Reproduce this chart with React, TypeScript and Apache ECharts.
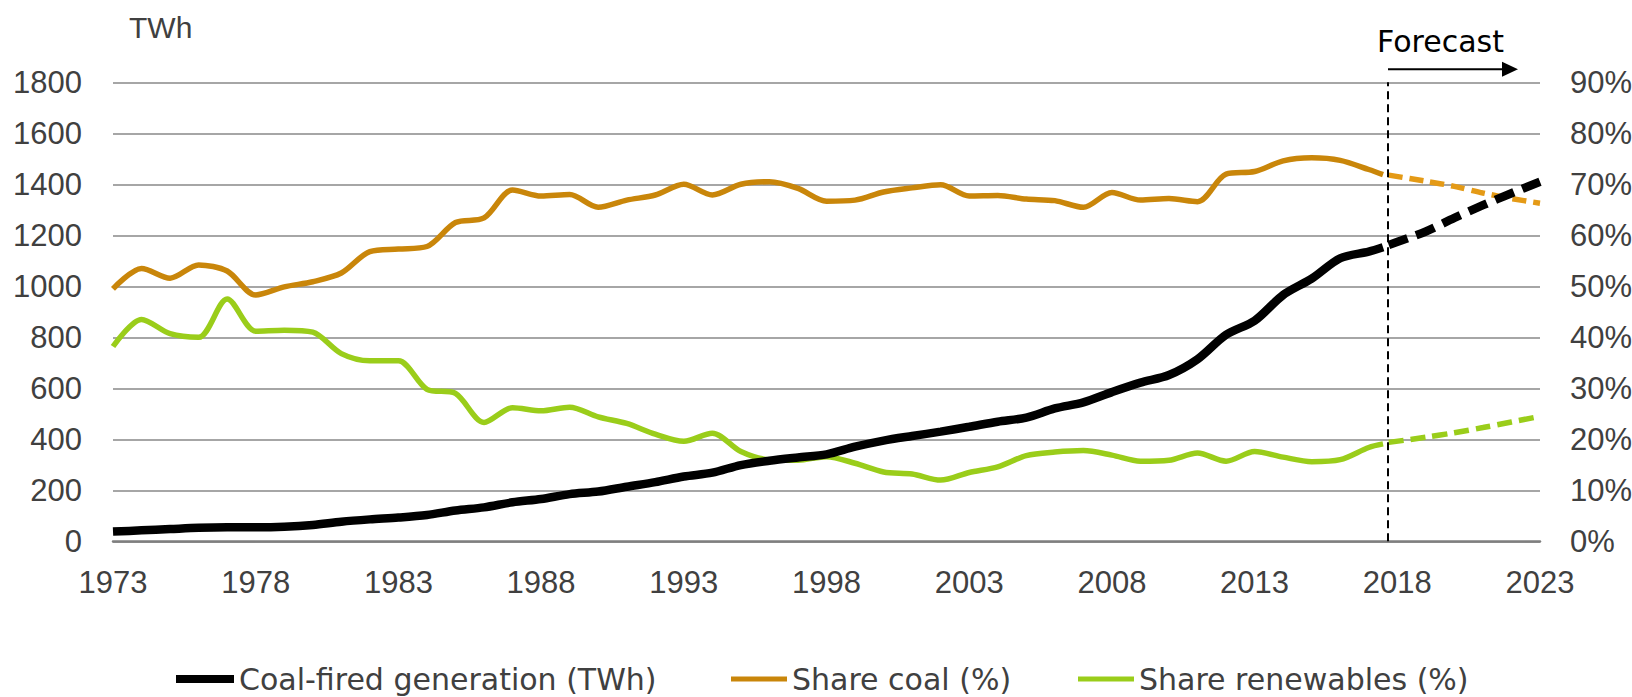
import React, { useEffect, useRef } from "react";
import * as echarts from "echarts";

// ---- data ----
const histYears = [
  1973, 1974, 1975, 1976, 1977, 1978, 1979, 1980, 1981, 1982,
  1983, 1984, 1985, 1986, 1987, 1988, 1989, 1990, 1991, 1992,
  1993, 1994, 1995, 1996, 1997, 1998, 1999, 2000, 2001, 2002,
  2003, 2004, 2005, 2006, 2007, 2008, 2009, 2010, 2011, 2012,
  2013, 2014, 2015, 2016, 2017, 2017.5,
];
const coalGenHist = [
  38, 43, 48, 53, 55, 55, 57, 64, 77, 86,
  93, 103, 121, 133, 153, 166, 185, 195, 214, 232,
  254, 269, 299, 316, 329, 341, 371, 395, 413, 430,
  449, 469, 485, 521, 545, 585, 622, 652, 714, 810,
  865, 966, 1030, 1110, 1136, 1153,
];
const shareCoalHist = [
  49.5, 53.5, 51.6, 54.2, 53.0, 48.3, 49.9, 50.9, 52.6, 56.8,
  57.3, 57.8, 62.5, 63.4, 68.9, 67.7, 68.0, 65.5, 66.9, 67.9,
  70.0, 67.9, 70.0, 70.5, 69.2, 66.7, 66.9, 68.5, 69.3, 69.9,
  67.7, 67.8, 67.1, 66.8, 65.5, 68.4, 66.9, 67.2, 66.6, 72.0,
  72.5, 74.6, 75.2, 74.7, 72.9, 71.9,
];
const shareRenewHist = [
  38.2, 43.5, 40.7, 40.0, 47.5, 41.2, 41.4, 41.0, 36.8, 35.4,
  35.4, 29.8, 29.0, 23.3, 26.2, 25.6, 26.3, 24.4, 23.1, 21.0,
  19.6, 21.2, 17.6, 16.0, 15.9, 16.6, 15.3, 13.6, 13.2, 12.0,
  13.5, 14.6, 16.8, 17.5, 17.8, 16.9, 15.7, 15.9, 17.3, 15.7,
  17.6, 16.5, 15.6, 16.0, 18.4, 19.1,
];

const forecastYears = [2017.7, 2019, 2020, 2021, 2022, 2023];
const coalGenForecast = [1162, 1215, 1268, 1318, 1365, 1410];
const shareCoalForecast = [71.8, 70.6, 69.6, 68.3, 67.2, 66.3];
const shareRenewForecast = [19.4, 20.4, 21.3, 22.3, 23.4, 24.5];

const forecastStart = 2017.67;

const leftTicks = { min: 0, max: 1800, interval: 200 };
const rightTicks = { min: 0, max: 90, interval: 10 };
const xTicks = { min: 1973, max: 2023, interval: 5 };

const NAME_GEN = "Coal-fired generation (TWh)";
const NAME_COAL = "Share coal (%)";
const NAME_REN = "Share renewables (%)";

const BLACK = "#000000";
const ORANGE = "#C9860A";
const ORANGE_F = "#E49A16";
const GREEN = "#9ACD1A";
const TEXT = "#404040";

const pair = (xs: number[], ys: number[]) => xs.map((x, i) => [x, ys[i]]);

export default function App() {
  const ref = useRef<HTMLDivElement | null>(null);

  useEffect(() => {
    if (!ref.current) return;
    const chart = echarts.init(ref.current, null, { renderer: "svg" });

    const axisFont = {
      fontFamily: "Liberation Sans",
      fontSize: 31,
      color: TEXT,
    };

    const legendBase = {
      orient: "horizontal",
      top: 664,
      padding: 0,
      icon: "rect",
      textStyle: { fontFamily: "DejaVu Sans", fontSize: 30, color: TEXT },
      selectedMode: false,
    };

    const option: any = {
      animation: false,
      backgroundColor: "#ffffff",
      grid: {
        left: 113,
        right: 92,
        top: 82.3,
        bottom: 155.7,
        containLabel: false,
        outerBoundsMode: "none",
      },
      xAxis: {
        type: "value",
        min: xTicks.min,
        max: xTicks.max,
        interval: xTicks.interval,
        axisLine: { show: true, lineStyle: { color: "#7F7F7F", width: 2.5 } },
        axisTick: { show: false },
        splitLine: { show: false },
        axisLabel: {
          ...axisFont,
          margin: 26,
          formatter: (v: number) => String(v),
        },
      },
      yAxis: [
        {
          type: "value",
          min: leftTicks.min,
          max: leftTicks.max,
          interval: leftTicks.interval,
          axisLine: { show: false },
          axisTick: { show: false },
          splitLine: { show: true, lineStyle: { color: "#A6A6A6", width: 2 } },
          axisLabel: { ...axisFont, margin: 31, formatter: (v: number) => String(v) },
        },
        {
          type: "value",
          position: "right",
          min: rightTicks.min,
          max: rightTicks.max,
          interval: rightTicks.interval,
          axisLine: { show: false },
          axisTick: { show: false },
          splitLine: { show: false },
          axisLabel: { ...axisFont, margin: 30, formatter: (v: number) => v + "%" },
        },
      ],
      legend: [
        { ...legendBase, left: 176, itemWidth: 58, itemHeight: 8, data: [NAME_GEN] },
        { ...legendBase, left: 731, itemWidth: 56, itemHeight: 5, data: [NAME_COAL] },
        { ...legendBase, left: 1078, itemWidth: 56, itemHeight: 5, data: [NAME_REN] },
      ],
      series: [
        {
          name: NAME_REN,
          type: "line",
          yAxisIndex: 1,
          data: pair(histYears, shareRenewHist),
          symbol: "none",
          smooth: 0.3,
          lineStyle: { color: GREEN, width: 5.5 },
          itemStyle: { color: GREEN },
          z: 2,
        },
        {
          name: "Share renewables forecast",
          type: "line",
          yAxisIndex: 1,
          data: pair(forecastYears, shareRenewForecast),
          symbol: "none",
          smooth: 0.3,
          lineStyle: { color: GREEN, width: 5.5, type: [15, 7] },
          itemStyle: { color: GREEN },
          z: 2,
        },
        {
          name: NAME_COAL,
          type: "line",
          yAxisIndex: 1,
          data: pair(histYears, shareCoalHist),
          symbol: "none",
          smooth: 0.3,
          lineStyle: { color: ORANGE, width: 5.5 },
          itemStyle: { color: ORANGE },
          z: 3,
        },
        {
          name: "Share coal forecast",
          type: "line",
          yAxisIndex: 1,
          data: pair(forecastYears, shareCoalForecast),
          symbol: "none",
          smooth: 0.3,
          lineStyle: { color: ORANGE_F, width: 5.5, type: [14, 7] },
          itemStyle: { color: ORANGE_F },
          z: 3,
        },
        {
          name: NAME_GEN,
          type: "line",
          yAxisIndex: 0,
          data: pair(histYears, coalGenHist),
          symbol: "none",
          smooth: 0.3,
          lineStyle: { color: BLACK, width: 8.5 },
          itemStyle: { color: BLACK },
          z: 4,
        },
        {
          name: "Coal-fired generation forecast",
          type: "line",
          yAxisIndex: 0,
          data: pair(forecastYears, coalGenForecast),
          symbol: "none",
          smooth: 0.3,
          lineStyle: { color: BLACK, width: 8.5, type: [20, 9] },
          itemStyle: { color: BLACK },
          z: 4,
          markLine: {
            silent: true,
            symbol: "none",
            label: { show: false },
            lineStyle: { color: BLACK, width: 2, type: [8, 5] },
            data: [{ xAxis: forecastStart }],
          },
        },
      ],
      graphic: [
        {
          type: "text",
          x: 129,
          y: 27,
          style: {
            text: "TWh",
            fill: TEXT,
            font: "30px 'Liberation Sans'",
            verticalAlign: "middle",
            align: "left",
          },
        },
        {
          type: "text",
          x: 1377,
          y: 41,
          style: {
            text: "Forecast",
            fill: "#000000",
            font: "30px 'DejaVu Sans'",
            verticalAlign: "middle",
            align: "left",
          },
        },
        {
          type: "line",
          shape: { x1: 1388, y1: 69.3, x2: 1504, y2: 69.3 },
          style: { stroke: "#000000", lineWidth: 2 },
        },
        {
          type: "polygon",
          shape: { points: [[1502, 61.8], [1518, 69.3], [1502, 76.8]] },
          style: { fill: "#000000" },
        },
      ],
    };

    chart.setOption(option);
    return () => chart.dispose();
  }, []);

  return (
    <div
      ref={ref}
      style={{ position: "fixed", left: 0, top: 0, width: 1632, height: 697, background: "#fff" }}
    />
  );
}
